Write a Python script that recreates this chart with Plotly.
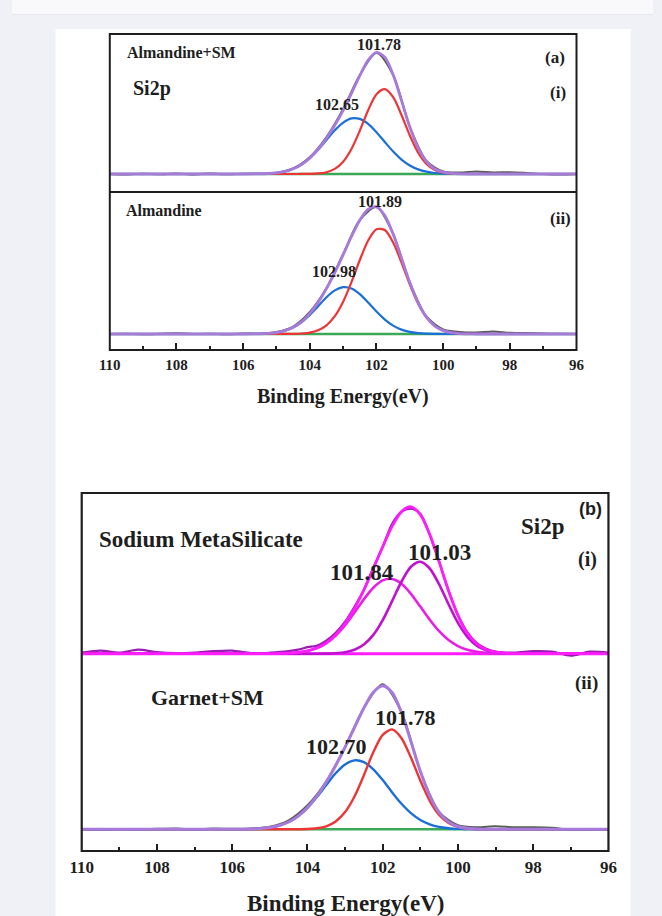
import plotly.graph_objects as go

W, H = 662, 916

# ---------------- data ----------------
# binding-energy grid for fitted components (eV)
grid = [110, 106, 105.5, 105.25, 105, 104.75, 104.5, 104.25, 104, 103.75, 103.5,
        103.25, 103, 102.75, 102.5, 102.25, 102, 101.75, 101.5, 101.25, 101,
        100.75, 100.5, 100.25, 100, 99.75, 99.5, 99.25, 99, 98.75, 98.5, 98, 96]

# (a)(i) Almandine+SM
red_ai = [0, 0, 0, 0, 0, 0, 0, 0.03, 0.14, 0.54, 1.8, 5.1, 12.3, 25.0, 43.3, 63.8, 79.8,
          84.9, 76.8, 59.0, 38.5, 21.4, 10.1, 4.0, 1.4, 0.4, 0.1, 0, 0, 0, 0, 0, 0]
blue_ai = [0, 0, 0.2, 0.5, 1.2, 2.6, 5.2, 9.5, 15.9, 24.2, 34.0, 43.7, 51.4, 55.6, 55.1,
           50.1, 41.8, 32.0, 22.4, 14.4, 8.5, 4.6, 2.3, 1.0, 0.4, 0.2, 0.1, 0, 0, 0, 0, 0, 0]
# (a)(ii) Almandine
red_aii = [0, 0, 0, 0, 0, 0.04, 0.15, 0.5, 1.4, 3.8, 8.7, 17.8, 32.3, 52.0, 74.0, 93.5,
           104.8, 104.0, 91.5, 71.4, 49.4, 30.3, 16.5, 7.9, 3.4, 1.3, 0.4, 0.1, 0, 0, 0, 0, 0]
blue_aii = [0, 0, 0.2, 0.6, 1.5, 3.3, 6.5, 11.7, 19.0, 27.8, 36.7, 43.6, 46.9, 45.5, 39.8,
            31.4, 22.4, 14.4, 8.4, 4.4, 2.1, 0.9, 0.3, 0.1, 0, 0, 0, 0, 0, 0, 0, 0, 0]
# (b)(i) Sodium MetaSilicate
comp1_bi = [0, 0, 0, 0, 0.1, 0.2, 0.5, 1.3, 2.8, 5.7, 10.6, 18.2, 28.6, 41.2, 54.5, 66.0,
            73.3, 74.7, 69.9, 59.9, 47.1, 34.0, 22.5, 13.6, 7.6, 3.9, 1.8, 0.8, 0.3, 0.1, 0, 0, 0]
comp2_bi = [0, 0, 0, 0, 0, 0, 0, 0, 0, 0, 0.1, 0.5, 1.5, 4.0, 9.2, 18.8, 33.6, 52.6, 72.2,
            87.0, 92.0, 85.2, 69.3, 49.4, 30.8, 16.9, 8.1, 3.4, 1.3, 0.4, 0.1, 0, 0]
# (b)(ii) Garnet+SM
red_bii = [0, 0, 0, 0, 0, 0, 0, 0.1, 0.3, 1.0, 3.0, 7.8, 17.2, 32.8, 54.1, 77.0, 94.4,
           99.9, 91.1, 71.7, 48.7, 28.5, 14.4, 6.3, 2.4, 0.8, 0.2, 0, 0, 0, 0, 0, 0]
blue_bii = [0, 0, 0.3, 0.8, 1.8, 3.8, 7.3, 13.1, 21.4, 32.2, 44.3, 56.0, 64.8, 68.9, 67.1,
            60.0, 49.2, 36.9, 25.5, 16.1, 9.3, 5.0, 2.4, 1.1, 0.4, 0.2, 0.1, 0, 0, 0, 0, 0, 0]

baseline = [0] * len(grid)

# raw spectra
raw_grid = [110, 109.5, 109, 108.5, 108, 107.5, 107, 106.5, 106, 105.5, 105, 104.5, 104,
            103.5, 103, 102.5, 102, 101.5, 101, 100.5, 100, 99.5, 99, 98.5, 98, 97.5, 97,
            96.5, 96]
raw_ai = [0, -0.5, 0.3, -0.3, 0.5, -0.5, 0.4, -0.3, 0.3, 0.2, 1.0, 5.5, 17, 37, 65, 99, 121,
          99, 47, 13, 2.5, 1.5, 2.5, 1.5, 1.8, 1.0, 0, -0.5, 0]
raw_aii = [0, 0.3, -0.2, 0.2, 0.8, 0, 0.2, -0.3, 0.5, 0.3, 2.0, 7.5, 22, 46, 80, 114, 127,
           100, 51.5, 17.5, 4.5, 2.0, 1.5, 2.5, 1.2, 1.0, 0.5, 0.2, 0]
raw_bii = [0, -0.5, 0.3, 0, 0.5, 0.8, 0, 0.8, 0.5, 0.8, 2.5, 9, 24, 48, 82.5, 121.5, 145,
           117, 58, 17.5, 4, 2.0, 3.0, 2.0, 2.0, 1.5, -0.5, 0, 0]
raw_grid_bi = [110, 109.5, 109, 108.5, 108, 107.5, 107, 106.5, 106, 105.5, 105, 104.5,
               104.25, 104, 103.75, 103.5, 103.25, 103, 102.75, 102.5, 102.25, 102, 101.75,
               101.5, 101.25, 101, 100.75, 100.5, 100.25, 100, 99.75, 99.5, 99.25, 99,
               98.5, 98, 97.5, 97, 96.5, 96]
raw_bi = [1, 3, 1, 4, 1.5, 0.5, 1, 2.5, 3, 0.5, 1, 2.5, 4, 6.5, 8, 13, 21, 32, 47, 64, 86,
          107, 130, 142, 145, 140, 119, 92, 63, 38.5, 21, 10.5, 5, 2, 1, 2.5, 2, -2, 2, 1]

tick_vals = [110, 108, 106, 104, 102, 100, 98, 96]
tick_text = ["110", "108", "106", "104", "102", "100", "98", "96"]

env_ai = [r + b for r, b in zip(red_ai, blue_ai)]
env_aii = [r + b for r, b in zip(red_aii, blue_aii)]
env_bi = [r + b for r, b in zip(comp1_bi, comp2_bi)]
env_bii = [r + b for r, b in zip(red_bii, blue_bii)]

# ---------------- style ----------------
RED, BLUE, PURPLE, GREEN, GRAY = "#ee3535", "#1b6fd8", "#a77bdb", "#3aa856", "#5a5a5a"
MAG, MAG2, MAG3, MAGRAW = "#ff1cff", "#e81ee8", "#c010d0", "#9a1cb2"
SERIF = "Liberation Serif"
INK = "#1e1e1e"


def dx(l, r):
    return [l / W, r / W]


def dy(top, bottom):
    return [1 - bottom / H, 1 - top / H]


fig = go.Figure()


def line(x, y, color, width, ax):
    fig.add_trace(go.Scatter(x=x, y=y, mode="lines", xaxis="x" + ax, yaxis="y" + ax,
                             line=dict(color=color, width=width, shape="spline", smoothing=0.8),
                             hoverinfo="skip", showlegend=False))


# panel a (i)
line(grid, baseline, GREEN, 2.5, "")
line(grid, blue_ai, BLUE, 2.2, "")
line(grid, red_ai, RED, 2.2, "")
line(raw_grid, raw_ai, GRAY, 2, "")
line(grid, env_ai, PURPLE, 2.8, "")
# panel a (ii)
line(grid, baseline, GREEN, 2.5, "2")
line(grid, blue_aii, BLUE, 2.2, "2")
line(grid, red_aii, RED, 2.2, "2")
line(raw_grid, raw_aii, GRAY, 2, "2")
line(grid, env_aii, PURPLE, 2.8, "2")
# panel b (i)
line(grid, baseline, MAG, 3, "3")
line(grid, comp1_bi, MAG2, 2.6, "3")
line(grid, comp2_bi, MAG3, 2.6, "3")
line(raw_grid_bi, raw_bi, MAGRAW, 2.2, "3")
line(grid, env_bi, MAG, 2.8, "3")
# panel b (ii)
line(grid, baseline, GREEN, 2.5, "4")
line(grid, blue_bii, BLUE, 2.4, "4")
line(grid, red_bii, RED, 2.4, "4")
line(raw_grid, raw_bii, GRAY, 2, "4")
line(grid, env_bii, PURPLE, 3, "4")

A_L, A_R = 101, 583
B_L, B_R = 72, 616

hidden_x = dict(range=[110, 96], visible=False, showgrid=False, zeroline=False)


def bottom_x(domain, anchor, size, standoff):
    return dict(domain=domain, anchor=anchor, range=[110, 96], showgrid=False, zeroline=False,
                showline=False, tickmode="array", tickvals=tick_vals, ticktext=tick_text,
                ticks="inside", ticklen=7, tickwidth=2, tickcolor=INK,
                ticklabelstandoff=standoff,
                minor=dict(dtick=1, tick0=96, ticks="inside", ticklen=4, tickwidth=2,
                           tickcolor=INK, showgrid=False),
                tickfont=dict(family=SERIF, size=size, color=INK, weight="bold"))


def yax(domain, anchor, rng):
    return dict(domain=domain, anchor=anchor, range=rng, visible=False, showgrid=False,
                zeroline=False)


fig.update_layout(
    width=W, height=H, autosize=False,
    margin=dict(l=0, r=0, t=0, b=0, pad=0),
    paper_bgcolor="#f0f1f6", plot_bgcolor="rgba(0,0,0,0)",
    xaxis=dict(hidden_x, domain=dx(A_L, A_R), anchor="y"),
    yaxis=yax(dy(34, 192), "x", [-18, 140]),
    xaxis2=bottom_x(dx(A_L, A_R), "y2", 15, 4),
    yaxis2=yax(dy(192, 350), "x2", [-16, 142]),
    xaxis3=dict(hidden_x, domain=dx(B_L, B_R), anchor="y3"),
    yaxis3=yax(dy(493, 672), "x3", [-18.3, 160.7]),
    xaxis4=bottom_x(dx(B_L, B_R), "y4", 17, 4),
    yaxis4=yax(dy(672, 851), "x4", [-21.7, 157.3]),
)


def px_rect(x0, y0, x1, y1, **kw):
    return dict(type="rect", xref="paper", yref="paper", x0=x0 / W, x1=x1 / W,
                y0=1 - y1 / H, y1=1 - y0 / H, **kw)


shapes = [
    px_rect(0, 0, W, 14, fillcolor="#f9f9fb", line=dict(width=0), layer="below"),
    px_rect(0, 14, W, 15, fillcolor="#e6e7ee", line=dict(width=0), layer="below"),
    px_rect(45, 29, 639, H, fillcolor="white", line=dict(width=0), layer="below"),
    px_rect(A_L, 34, A_R, 350, line=dict(color=INK, width=2), layer="above"),
    dict(type="line", xref="paper", yref="paper", x0=A_L / W, x1=A_R / W,
         y0=1 - 192 / H, y1=1 - 192 / H, line=dict(color=INK, width=2), layer="above"),
    px_rect(B_L, 493, B_R, 851, line=dict(color=INK, width=2.2), layer="above"),
]
fig.update_layout(shapes=shapes)


def txt(s, x, y, size, family=SERIF):
    return dict(text="<b>" + s + "</b>", xref="paper", yref="paper", x=x / W, y=1 - y / H,
                xanchor="center", yanchor="middle", showarrow=False,
                font=dict(family=family, size=size, color=INK))


annotations = [
    txt("Almandine+SM", 175, 52, 16),
    txt("Si2p", 145, 88, 20),
    txt("101.78", 379, 45, 16),
    txt("102.65", 336, 104, 16),
    txt("(a)", 561, 57, 17),
    txt("(i)", 564, 93, 17),
    txt("Almandine", 157, 210, 16),
    txt("101.89", 380, 201, 16),
    txt("102.98", 333, 271, 16),
    txt("(ii)", 566, 218, 17),
    txt("Binding Energy(eV)", 342, 396, 20),
    txt("Sodium MetaSilicate", 195, 539, 23),
    txt("Si2p", 548, 526, 23),
    txt("(b)", 597, 509, 18, family="Liberation Sans"),
    txt("(i)", 594, 559, 20),
    txt("101.03", 442, 552, 23),
    txt("101.84", 361, 572, 23),
    txt("(ii)", 593, 683, 19),
    txt("Garnet+SM", 202, 697, 22),
    txt("101.78", 406, 717, 22),
    txt("102.70", 335, 746, 22),
    txt("Binding Energy(eV)", 344, 903, 23),
]
fig.update_layout(annotations=annotations)

fig.write_html("out.html")
